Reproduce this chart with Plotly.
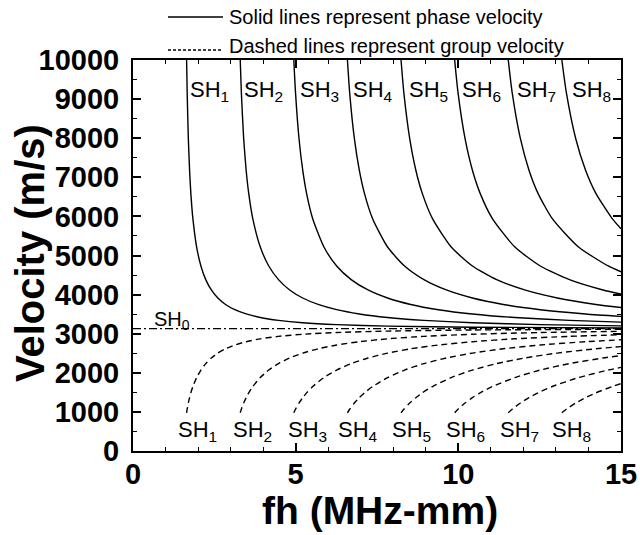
import plotly.graph_objects as go

# ---------------- data ----------------
# fh values (MHz-mm) sampled along each SH mode, with phase (CP) and group (CG) velocities (m/s)
FH_1 = [1.648, 1.665, 1.701, 1.739, 1.778, 1.841, 1.956, 2.087, 2.236, 2.408, 2.608, 2.845, 3.13, 3.478, 3.913, 4.471, 5.217, 6.26, 7.825, 10.433, 15]
CP_1 = [10000, 9173, 7987, 7181, 6589, 5942, 5217, 4732, 4383, 4119, 3913, 3748, 3614, 3505, 3415, 3342, 3281, 3233, 3195, 3166, 3147]
CG_1 = [977, 1068, 1227, 1364, 1487, 1649, 1878, 2070, 2235, 2378, 2504, 2614, 2711, 2795, 2869, 2932, 2986, 3030, 3067, 3095, 3113]

FH_2 = [3.296, 3.330, 3.402, 3.478, 3.557, 3.682, 3.913, 4.173, 4.472, 4.815, 5.217, 5.691, 6.26, 6.956, 7.825, 8.943, 10.433, 12.52, 15]
CP_2 = [10000, 9173, 7987, 7181, 6589, 5942, 5217, 4732, 4383, 4119, 3913, 3748, 3614, 3505, 3415, 3342, 3281, 3233, 3200]
CG_2 = [977, 1068, 1227, 1364, 1487, 1649, 1878, 2070, 2235, 2378, 2504, 2614, 2711, 2795, 2869, 2932, 2986, 3030, 3061]

FH_3 = [4.943, 4.995, 5.103, 5.217, 5.335, 5.524, 5.869, 6.26, 6.707, 7.223, 7.825, 8.536, 9.39, 10.433, 11.738, 13.414, 15]
CP_3 = [10000, 9173, 7987, 7181, 6589, 5942, 5217, 4732, 4383, 4119, 3913, 3748, 3614, 3505, 3415, 3342, 3296]
CG_3 = [977, 1068, 1227, 1364, 1487, 1649, 1878, 2070, 2235, 2378, 2504, 2614, 2711, 2795, 2869, 2932, 2973]

FH_4 = [6.591, 6.659, 6.805, 6.956, 7.114, 7.365, 7.825, 8.347, 8.943, 9.631, 10.433, 11.382, 12.52, 13.911, 15]
CP_4 = [10000, 9173, 7987, 7181, 6589, 5942, 5217, 4732, 4383, 4119, 3913, 3748, 3614, 3505, 3444]
CG_4 = [977, 1068, 1227, 1364, 1487, 1649, 1878, 2070, 2235, 2378, 2504, 2614, 2711, 2795, 2844]

FH_5 = [8.239, 8.324, 8.506, 8.694, 8.892, 9.206, 9.781, 10.433, 11.179, 12.039, 13.042, 14.227, 15]
CP_5 = [10000, 9173, 7987, 7181, 6589, 5942, 5217, 4732, 4383, 4119, 3913, 3748, 3669]
CG_5 = [977, 1068, 1227, 1364, 1487, 1649, 1878, 2070, 2235, 2378, 2504, 2614, 2670]

FH_6 = [9.887, 9.989, 10.207, 10.433, 10.671, 11.047, 11.738, 12.52, 13.415, 14.446, 15]
CP_6 = [10000, 9173, 7987, 7181, 6589, 5942, 5217, 4732, 4383, 4119, 4014]
CG_6 = [977, 1068, 1227, 1364, 1487, 1649, 1878, 2070, 2235, 2378, 2441]

FH_7 = [11.535, 11.654, 11.908, 12.172, 12.449, 12.888, 13.694, 14.607, 15]
CP_7 = [10000, 9173, 7987, 7181, 6589, 5942, 5217, 4732, 4582]
CG_7 = [977, 1068, 1227, 1364, 1487, 1649, 1878, 2070, 2138]

FH_8 = [13.182, 13.319, 13.609, 13.911, 14.228, 14.730, 15]
CP_8 = [10000, 9173, 7987, 7181, 6589, 5942, 5683]
CG_8 = [977, 1068, 1227, 1364, 1487, 1649, 1724]

FH_0 = [0, 15]
V_0 = [3130, 3130]

MODE_NAMES = ["SH<sub>1</sub>", "SH<sub>2</sub>", "SH<sub>3</sub>", "SH<sub>4</sub>",
              "SH<sub>5</sub>", "SH<sub>6</sub>", "SH<sub>7</sub>", "SH<sub>8</sub>"]
X_TICKS = [0, 5, 10, 15]
X_TICKTEXT = ["0", "5", "10", "15"]
Y_TICKS = [0, 1000, 2000, 3000, 4000, 5000, 6000, 7000, 8000, 9000, 10000]
Y_TICKTEXT = ["0", "1000", "2000", "3000", "4000", "5000", "6000", "7000", "8000", "9000", "10000"]

# label anchor positions (data units)
TOP_LABEL_FH = [1.70, 3.36, 5.06, 6.69, 8.41, 10.06, 11.75, 13.44]
TOP_LABEL_V = 9200
BOT_LABEL_FH = [1.31, 3.00, 4.69, 6.23, 7.90, 9.57, 11.21, 12.83]
BOT_LABEL_V = 520
SH0_LABEL = (0.58, 3350)

MODES = [(FH_1, CP_1, CG_1), (FH_2, CP_2, CG_2), (FH_3, CP_3, CG_3), (FH_4, CP_4, CG_4),
         (FH_5, CP_5, CG_5), (FH_6, CP_6, CG_6), (FH_7, CP_7, CG_7), (FH_8, CP_8, CG_8)]

FONT = "Liberation Sans, Arial, Helvetica, sans-serif"
L, R, T, B = 133, 19, 60, 84
W, H = 640, 535
PW, PH = W - L - R, H - T - B

def px(x):
    return (x - L) / PW

def py(y):
    return (H - B - y) / PH

fig = go.Figure()

for (fh, cp, cg), name in zip(MODES, MODE_NAMES):
    fig.add_trace(go.Scatter(x=fh, y=cp, mode="lines", name=name + " phase",
                             line=dict(color="black", width=1.4, shape="spline", smoothing=0.6),
                             showlegend=False, hoverinfo="x+y"))
    fig.add_trace(go.Scatter(x=fh, y=cg, mode="lines", name=name + " group",
                             line=dict(color="black", width=1.4, dash="6px,4px", shape="spline", smoothing=0.6),
                             showlegend=False, hoverinfo="x+y"))

fig.add_trace(go.Scatter(x=FH_0, y=V_0, mode="lines", name="SH0",
                         line=dict(color="black", width=1.2, dash="8px,3px,2px,3px"),
                         showlegend=False))

annotations = []
for name, xf in zip(MODE_NAMES, TOP_LABEL_FH):
    annotations.append(dict(x=xf, y=TOP_LABEL_V, xref="x", yref="y", text=name, showarrow=False,
                            xanchor="left", yanchor="middle", font=dict(family=FONT, size=22, color="black")))
for name, xf in zip(MODE_NAMES, BOT_LABEL_FH):
    annotations.append(dict(x=xf, y=BOT_LABEL_V, xref="x", yref="y", text=name, showarrow=False,
                            xanchor="left", yanchor="middle", font=dict(family=FONT, size=22, color="black")))
annotations.append(dict(x=SH0_LABEL[0], y=SH0_LABEL[1], xref="x", yref="y", text="SH<sub>0</sub>",
                        showarrow=False, xanchor="left", yanchor="middle",
                        font=dict(family=FONT, size=20, color="black")))

# axis titles
annotations.append(dict(x=px(380), y=py(510), xref="paper", yref="paper", text="<b>fh (MHz-mm)</b>",
                        showarrow=False, xanchor="center", yanchor="middle",
                        font=dict(family=FONT, size=39, color="black")))
annotations.append(dict(x=px(30), y=py(253), xref="paper", yref="paper", text="<b>Velocity (m/s)</b>",
                        showarrow=False, xanchor="center", yanchor="middle", textangle=-90,
                        font=dict(family=FONT, size=40, color="black")))

# key text at top
annotations.append(dict(x=px(227), y=py(17), xref="paper", yref="paper",
                        text="Solid lines represent phase velocity", showarrow=False,
                        xanchor="left", yanchor="middle", font=dict(family=FONT, size=20, color="black")))
annotations.append(dict(x=px(227), y=py(46), xref="paper", yref="paper",
                        text="Dashed lines represent group velocity", showarrow=False,
                        xanchor="left", yanchor="middle", font=dict(family=FONT, size=20, color="black")))

shapes = [
    dict(type="line", xref="paper", yref="paper", x0=px(168), x1=px(223), y0=py(17), y1=py(17),
         line=dict(color="black", width=1.4)),
    dict(type="line", xref="paper", yref="paper", x0=px(168), x1=px(222), y0=py(50), y1=py(50),
         line=dict(color="black", width=1.4, dash="3px,2px")),
]

axis_common = dict(
    showgrid=False, zeroline=False, showline=True, linecolor="black", linewidth=2,
    mirror="ticks", ticks="inside", ticklen=8, tickwidth=1.5, tickcolor="black",
    automargin=False, tickmode="array",
    tickfont=dict(family=FONT, size=29, color="black", weight="bold"),
)

fig.update_layout(
    template="none",
    width=W, height=H,
    margin=dict(l=L, r=R, t=T, b=B, pad=0),
    paper_bgcolor="white", plot_bgcolor="white",
    showlegend=False,
    annotations=annotations,
    shapes=shapes,
    xaxis=dict(range=[0, 15], tickvals=X_TICKS, ticktext=X_TICKTEXT, ticklabelstandoff=-4,
               minor=dict(dtick=1, ticks="inside", ticklen=4, tickwidth=1.2, tickcolor="black"),
               **axis_common),
    yaxis=dict(range=[0, 10000], tickvals=Y_TICKS, ticktext=Y_TICKTEXT, ticklabelstandoff=6,
               minor=dict(dtick=500, ticks="inside", ticklen=4, tickwidth=1.2, tickcolor="black"),
               **axis_common),
)

fig.write_html("out.html", config={"displayModeBar": False},
               post_script="document.body.style.margin='0';document.body.style.padding='0';")
